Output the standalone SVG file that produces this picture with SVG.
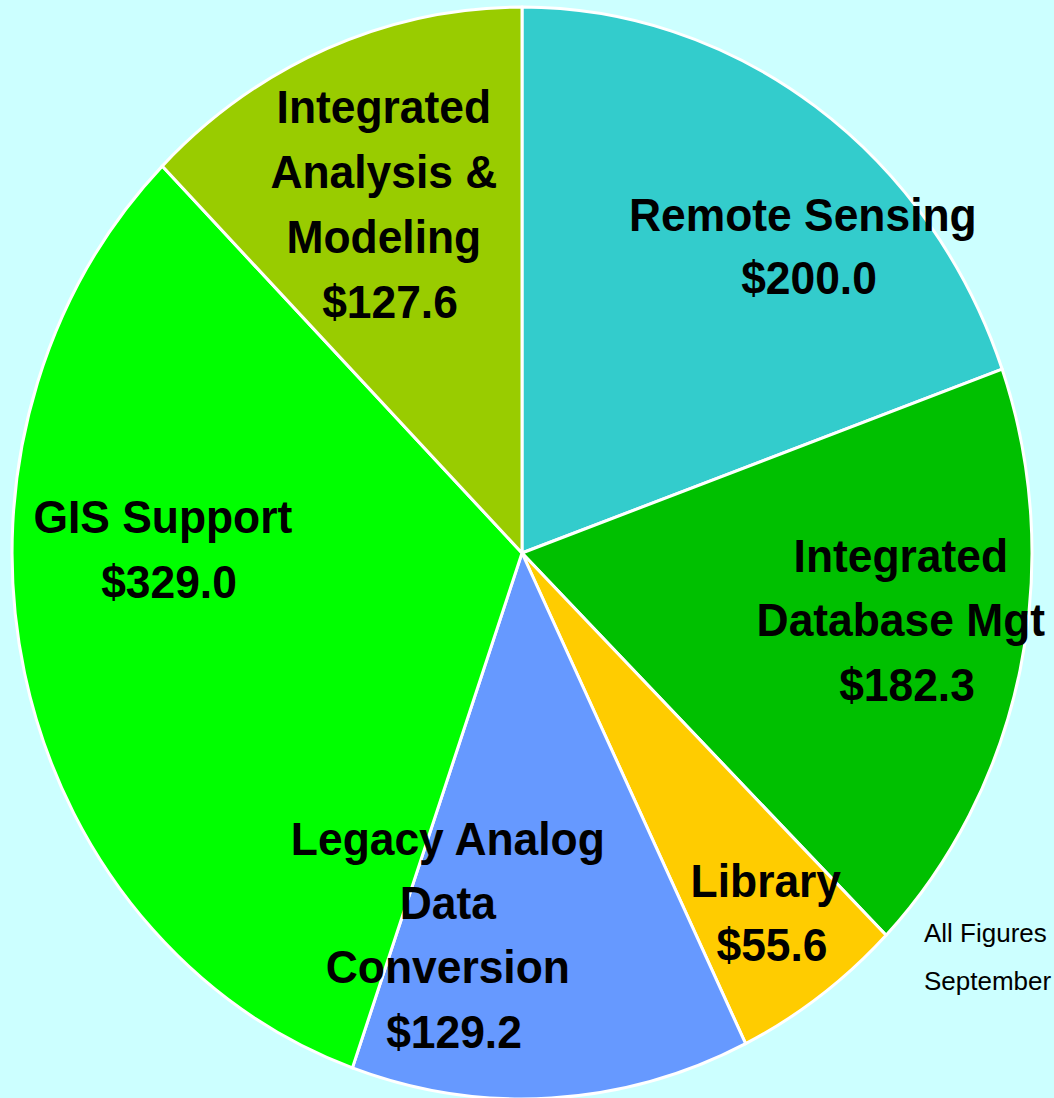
<svg xmlns="http://www.w3.org/2000/svg" width="1054" height="1098" viewBox="0 0 1054 1098">
  <style>
    .slice { stroke: #FFFFFF; stroke-width: 3; stroke-linejoin: round; }
    .label { font-family: "Liberation Sans", Arial, sans-serif; font-weight: bold; font-size: 46px; fill: #000000; text-anchor: middle; }
    .note { font-family: "Liberation Sans", Arial, sans-serif; font-size: 26px; fill: #000000; }
  </style>
  <rect x="0" y="0" width="1054" height="1098" fill="#CCFFFF"/>

  <!-- pie slices, clockwise from 12 o'clock; centre (522,553), radii 510 x 546 -->
  <g id="remote-sensing">
    <path class="slice" fill="#33CCCC" d="M522,553 L522,7 A510,546 0 0 1 1002.2,369.2 Z"/>
    <text class="label" transform="matrix(0.965 0 0 1 809 0)">
      <tspan x="0" y="231">Remote Sensing</tspan>
      <tspan x="0" y="294">$200.0</tspan>
    </text>
  </g>

  <g id="integrated-database-mgt">
    <path class="slice" fill="#00C000" d="M522,553 L1002.2,369.2 A510,546 0 0 1 886.1,935.3 Z"/>
    <text class="label" transform="matrix(0.965 0 0 1 907 0)">
      <tspan x="0" y="572">Integrated</tspan>
      <tspan x="0" y="636">Database Mgt</tspan>
      <tspan x="0" y="701">$182.3</tspan>
    </text>
  </g>

  <g id="library">
    <path class="slice" fill="#FFCC00" d="M522,553 L886.1,935.3 A510,546 0 0 1 745.6,1043.7 Z"/>
    <text class="label" transform="matrix(0.965 0 0 1 772 0)">
      <tspan x="0" y="897">Library</tspan>
      <tspan x="0" y="961">$55.6</tspan>
    </text>
  </g>

  <g id="legacy-analog-data-conversion">
    <path class="slice" fill="#6699FF" d="M522,553 L745.6,1043.7 A510,546 0 0 1 352.4,1067.9 Z"/>
  </g>

  <g id="gis-support">
    <path class="slice" fill="#00FF00" d="M522,553 L352.4,1067.9 A510,546 0 0 1 162.2,166.1 Z"/>
    <text class="label" transform="matrix(0.965 0 0 1 169 0)">
      <tspan x="0" y="533">GIS Support</tspan>
      <tspan x="0" y="598">$329.0</tspan>
    </text>
  </g>

  <g id="integrated-analysis-modeling">
    <path class="slice" fill="#99CC00" d="M522,553 L162.2,166.1 A510,546 0 0 1 522,7 Z"/>
    <text class="label" transform="matrix(0.965 0 0 1 390 0)">
      <tspan x="0" y="123">Integrated</tspan>
      <tspan x="0" y="188">Analysis &amp;</tspan>
      <tspan x="0" y="253">Modeling</tspan>
      <tspan x="0" y="318">$127.6</tspan>
    </text>
  </g>

  <!-- legacy label drawn last: it spills over the GIS slice edge -->
  <g id="legacy-analog-data-conversion-label">
    <text class="label" transform="matrix(0.965 0 0 1 454 0)">
      <tspan x="0" y="855">Legacy Analog</tspan>
      <tspan x="0" y="919">Data</tspan>
      <tspan x="0" y="983">Conversion</tspan>
      <tspan x="0" y="1048">$129.2</tspan>
    </text>
  </g>

  <g id="connectors"/>

  <g id="footnote">
    <text class="note" x="924" y="942">All Figures</text>
    <text class="note" x="924" y="990">September</text>
  </g>
</svg>
